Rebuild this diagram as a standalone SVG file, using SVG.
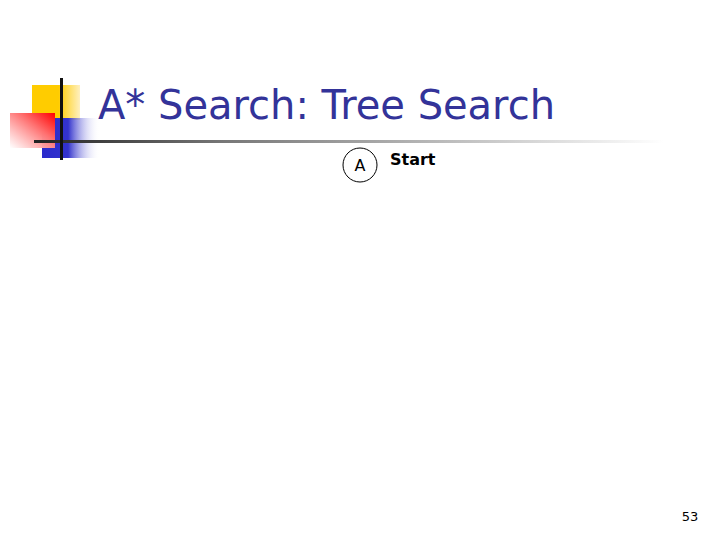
<svg xmlns="http://www.w3.org/2000/svg" width="720" height="540" viewBox="0 0 720 540">
<defs>
<linearGradient id="redg" x1="0" y1="1" x2="1" y2="0">
<stop offset="0" stop-color="#ffffff" stop-opacity="0.9"/>
<stop offset="0.6" stop-color="#ff7070"/>
<stop offset="1" stop-color="#ff0000"/>
</linearGradient>
<linearGradient id="blueg" x1="0" y1="0" x2="1" y2="0">
<stop offset="0" stop-color="#2a2acc"/>
<stop offset="0.45" stop-color="#3333cc"/>
<stop offset="1" stop-color="#ffffff" stop-opacity="0"/>
</linearGradient>
<linearGradient id="yellowg" x1="0" y1="0" x2="1" y2="0">
<stop offset="0" stop-color="#ffcc00"/>
<stop offset="0.55" stop-color="#ffcc00"/>
<stop offset="1" stop-color="#fff0c0"/>
</linearGradient>
<linearGradient id="lineg" x1="0" y1="0" x2="1" y2="0">
<stop offset="0" stop-color="#222222"/>
<stop offset="0.3" stop-color="#777777"/>
<stop offset="1" stop-color="#ffffff"/>
</linearGradient>
</defs>
<style>
.title{font-family:"DejaVu Sans",Verdana,sans-serif;font-size:40px;fill:#333399}
.node{fill:#ffffff;stroke:#000000;stroke-width:1}
.lbl{font-family:"DejaVu Sans",Verdana,sans-serif;font-size:16px;fill:#000000}
.bold{font-family:"DejaVu Sans",Verdana,sans-serif;font-size:16px;font-weight:bold;fill:#000000}
.num{font-family:"DejaVu Sans",Verdana,sans-serif;font-size:13px;fill:#000000}
</style>
<rect width="720" height="540" fill="#ffffff"/>
<g id="decoration">
<rect x="32" y="85" width="48" height="35" fill="url(#yellowg)"/>
<rect x="42" y="118" width="58" height="40" fill="url(#blueg)"/>
<rect x="10" y="113" width="45" height="35" fill="url(#redg)"/>
<rect x="34" y="140" width="630" height="3" fill="url(#lineg)"/>
<rect x="60" y="78" width="3" height="82" fill="#111111"/>
</g>
<text class="title" x="98" y="119" textLength="457" lengthAdjust="spacingAndGlyphs">A* Search: Tree Search</text>
<g id="node-A">
<circle class="node" cx="360" cy="165" r="17"/>
<text class="lbl" x="360" y="171" text-anchor="middle">A</text>
</g>
<g id="label-start">
<text class="bold" x="390" y="165">Start</text>
</g>
<g id="connectors"></g>
<text class="num" x="690" y="521" text-anchor="middle">53</text>
</svg>
